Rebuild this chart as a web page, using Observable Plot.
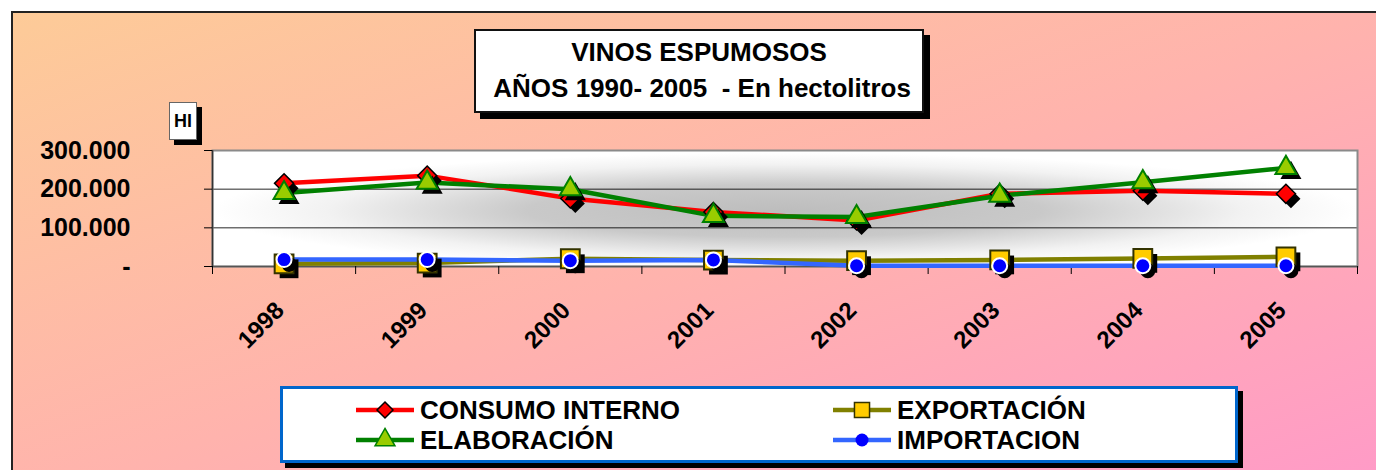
<!DOCTYPE html>
<html>
<head>
<meta charset="utf-8">
<script src="https://cdn.jsdelivr.net/npm/d3@7"></script>
<script src="https://cdn.jsdelivr.net/npm/@observablehq/plot@0.6"></script>
<style>
  html, body { margin: 0; padding: 0; }
  body { width: 1376px; height: 470px; overflow: hidden; position: relative; background: #fff;
         font-family: "Liberation Sans", Arial, sans-serif; }
  #frame { position: absolute; left: 11px; top: 11px; width: 1420px; height: 520px;
           border-left: 2px solid #222; border-top: 2px solid #222; box-sizing: border-box;
           background: linear-gradient(to bottom right, #fdcb98 0%, #ffb3ad 48%, #ff97cb 100%); }
  #chart { position: absolute; left: 0; top: 0; }
  .box { position: absolute; background: #fff; box-sizing: border-box; }
  #title { left: 474px; top: 29px; width: 450px; height: 84px; border: 2px solid #111;
           box-shadow: 6px 6px 0 #000; text-align: center; font-weight: bold; font-size: 26px;
           line-height: 36px; padding-top: 3px; white-space: pre; color: #000; }
  #hl { left: 169px; top: 102px; width: 28px; height: 38px; border: 1px solid #666;
        box-shadow: 5px 5px 0 #000; font-weight: bold; font-size: 18px; line-height: 36px;
        text-align: center; color: #000; }
  #legend { left: 280px; top: 386px; width: 958px; height: 77px; border: 3px solid #0066cc;
            box-shadow: 5px 5px 0 #000; }
  .item { position: absolute; height: 30px; display: flex; align-items: center; }
  .item span { font-weight: bold; font-size: 26px; color: #000; margin-left: 6px; line-height: 30px; }
  .item svg { display: block; }
</style>
</head>
<body>
<div id="frame"></div>
<div id="chart"></div>
<div id="title" class="box"></div>
<div id="hl" class="box">Hl</div>
<div id="legend" class="box"></div>
<script>
// ---- data ----
const years = ["1998", "1999", "2000", "2001", "2002", "2003", "2004", "2005"];
const consumoInterno = [215000, 235000, 176000, 141000, 119000, 188000, 196000, 188000];
const elaboracion    = [190000, 217000, 200000, 131000, 128000, 183000, 218000, 255000];
const exportacion    = [7000, 9000, 20000, 16500, 15000, 17000, 21000, 25000];
const importacion    = [18000, 18000, 15000, 17000, 2000, 2000, 2000, 2000];
const yTicks = [0, 100000, 200000, 300000];
const titleLines = ["VINOS ESPUMOSOS", " AÑOS 1990- 2005  - En hectolitros"];

const series = [
  {name: "CONSUMO INTERNO", values: consumoInterno, line: "#ff0000", symbol: "diamond2", r: 8.6, fill: "#ff0000", stroke: "#000", sw: 1.5},
  {name: "ELABORACIÓN", values: elaboracion, line: "#008000", symbol: "triangle", r: 7.8, fill: "#99cc00", stroke: "#008000", sw: 2},
  {name: "EXPORTACIÓN", values: exportacion, line: "#808000", symbol: "square", r: 10.6, fill: "#ffcc00", stroke: "#333300", sw: 2},
  {name: "IMPORTACION", values: importacion, line: "#3366ff", symbol: "circle", r: 7.5, fill: "#0000ff", stroke: "#fff", sw: 2}
];

const rows = s => years.map((y, i) => ({year: y, pos: i + 0.5, value: s.values[i]}));
const fmt = d => d === 0 ? "-" : d3.format(",")(d).replace(/,/g, ".");

const lineMarks = series.map(s => Plot.line(rows(s), {x: "pos", y: "value", stroke: s.line, strokeWidth: 4.5}));
const markerMarks = series.flatMap(s => [
  Plot.dot(rows(s), {x: "pos", y: "value", symbol: s.symbol, r: s.r, fill: "#000", dx: 5, dy: 5}),
  Plot.dot(rows(s), {x: "pos", y: "value", symbol: s.symbol, r: s.r, fill: s.fill, stroke: s.stroke, strokeWidth: s.sw})
]);

const plot = Plot.plot({
  width: 1376,
  height: 470,
  marginLeft: 212,
  marginRight: 19,
  marginTop: 150,
  marginBottom: 204,
  style: {background: "transparent", fontFamily: "Liberation Sans, Arial, sans-serif", fontWeight: "bold", color: "#000", overflow: "visible"},
  x: {domain: [0, years.length], label: null},
  y: {domain: [0, 300000], label: null},
  marks: [
    Plot.frame({fill: "url(#plotbg)"}),
    Plot.gridY([100000, 200000], {stroke: "#000", strokeOpacity: 0.85}),
    Plot.frame({stroke: "#8a8a8a", strokeWidth: 2}),
    Plot.ruleX([0], {stroke: "#333", strokeWidth: 1.5}),
    Plot.ruleY([0], {stroke: "#555", strokeWidth: 1.5}),
    Plot.axisY({ticks: yTicks, tickSize: 8, tickPadding: 74, tickFormat: fmt, fontSize: 25, fontWeight: "bold", label: null}),
    Plot.axisX({ticks: d3.range(years.length + 1), tickSize: 8, tickFormat: () => "", label: null}),
    Plot.text(years, {x: (d, i) => i + 0.5, frameAnchor: "bottom", rotate: -45, textAnchor: "end", lineAnchor: "middle",
                      dx: -4, dy: 40, fontSize: 24, fontWeight: "bold", fill: "#000"}),
    ...lineMarks,
    ...markerMarks
  ]
});

const ns = "http://www.w3.org/2000/svg";
const defs = document.createElementNS(ns, "defs");
defs.innerHTML = `<radialGradient id="plotbg" cx="0.5" cy="0.52" r="0.5">
  <stop offset="0" stop-color="#bdbdbd"/>
  <stop offset="0.45" stop-color="#c9c9c9"/>
  <stop offset="0.8" stop-color="#f2f2f2"/>
  <stop offset="1" stop-color="#ffffff"/>
</radialGradient>`;
plot.insertBefore(defs, plot.firstChild);
document.getElementById("chart").appendChild(plot);

// title
document.getElementById("title").textContent = titleLines.join("\n");
document.getElementById("hl").textContent = "Hl";

// legend
const legend = document.getElementById("legend");
const legendPos = [
  {left: 73, top: 6}, {left: 73, top: 36}, {left: 550, top: 6}, {left: 550, top: 36}
];
const legendOrder = [0, 1, 2, 3];
const symMap = {diamond2: d3.symbolDiamond2, triangle: d3.symbolTriangle, square: d3.symbolSquare, circle: d3.symbolCircle};
const legendR = {diamond2: 7.2, triangle: 7.4, square: 8.5, circle: 6.5};
legendOrder.forEach((k, j) => {
  const s = series[k];
  const div = document.createElement("div");
  div.className = "item";
  div.style.left = legendPos[j].left + "px";
  div.style.top = legendPos[j].top + "px";
  const sv = d3.create("svg").attr("width", 58).attr("height", 30);
  sv.append("line").attr("x1", 0).attr("x2", 58).attr("y1", 15).attr("y2", 15)
    .attr("stroke", s.line).attr("stroke-width", 4.5);
  const rr = legendR[s.symbol];
  sv.append("path").attr("transform", "translate(29,15)")
    .attr("d", d3.symbol(symMap[s.symbol], Math.PI * rr * rr)())
    .attr("fill", s.fill).attr("stroke", s.stroke).attr("stroke-width", s.symbol === "circle" ? 0 : 1.5);
  div.appendChild(sv.node());
  const sp = document.createElement("span");
  sp.textContent = s.name;
  div.appendChild(sp);
  legend.appendChild(div);
});
</script>
</body>
</html>
